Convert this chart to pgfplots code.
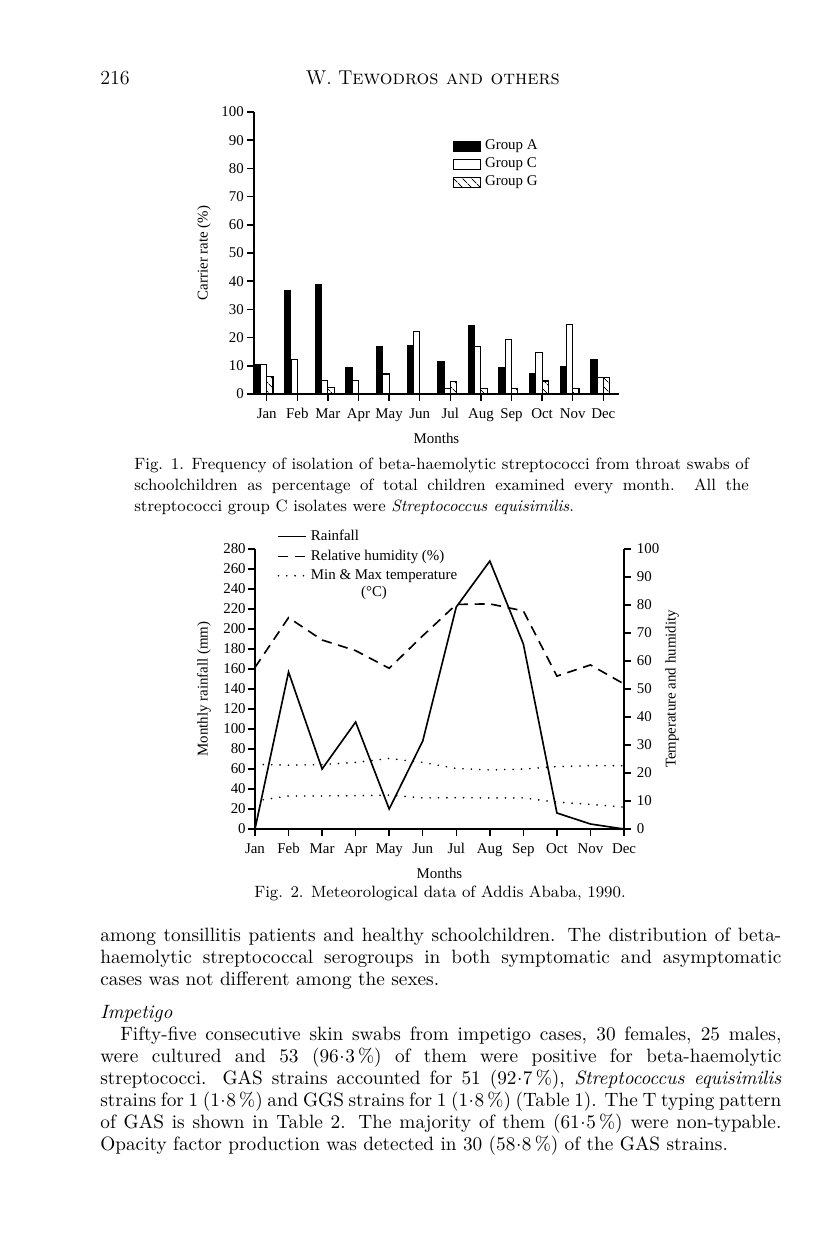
\documentclass[border=0pt]{standalone}
\usepackage{fontspec}
\usepackage{pgfplots}
\pgfplotsset{compat=1.18}
\usetikzlibrary{patterns.meta}
\newfontfamily\chartfont{Liberation Serif}
\newcommand{\cf}{\chartfont\fontsize{8.2}{9.8}\selectfont}
\newcommand{\bodyline}[1]{\makebox[374.55pt][s]{#1}}
\newcommand{\capline}[1]{\makebox[338pt][s]{#1}}
\newcommand{\pd}{\kern0.3pt\raisebox{0.42ex}{.}\kern0.3pt}

\pgfplotsset{
  page chart/.style={
    scale only axis,
    axis line style={line width=0.8pt},
    every tick/.style={black, line width=0.8pt},
    tick align=outside,
    major tick length=3.6pt,
    ticklabel style={font=\cf},
    xticklabel style={text height=1.5ex, text depth=0.3ex},
    label style={font=\cf},
    /pgf/number format/assume math mode=true,
  },
}

\begin{document}
\begin{tikzpicture}
\path[use as bounding box] (0pt,0pt) rectangle (448.8pt,-690.25pt);

\begin{scope}[x=0.55pt,y=-0.55pt]
  % running head
  \node[anchor=base west, inner sep=0pt] at (100,85) {\fontsize{11}{13}\selectfont 216};
  \node[anchor=base, inner sep=0pt] at (433,85) {\fontsize{11}{13}\selectfont W. T\textsc{ewodros and others}};

  % caption of Fig. 1
  \begin{scope}[every node/.style={anchor=base west, inner sep=0pt, font=\fontsize{9}{11}\selectfont}]
    \node at (134,469) {\capline{Fig. 1. Frequency of isolation of beta-haemolytic streptococci from throat swabs of}};
    \node at (134,490) {\capline{schoolchildren as percentage of total children examined every month. All the}};
    \node at (134,511) {streptococci group C isolates were \textit{Streptococcus equisimilis}.};
  \end{scope}

  % caption of Fig. 2
  \node[anchor=base, inner sep=0pt, font=\fontsize{9}{11}\selectfont] at (440,897) {Fig. 2. Meteorological data of Addis Ababa, 1990.};

  % body text
  \begin{scope}[every node/.style={anchor=base west, inner sep=0pt, font=\fontsize{10.6}{13}\selectfont}]
    \node at (100,941) {\bodyline{among tonsillitis patients and healthy schoolchildren. The distribution of beta-}};
    \node at (100,963) {\bodyline{haemolytic streptococcal serogroups in both symptomatic and asymptomatic}};
    \node at (100,985) {cases was not different among the sexes.};
    \node at (100,1018) {\textit{Impetigo}};
    \node at (120,1040) {\makebox[363.55pt][s]{Fifty-five consecutive skin swabs from impetigo cases, 30 females, 25 males,}};
    \node at (100,1062) {\bodyline{were cultured and 53 (96\pd3\,\%) of them were positive for beta-haemolytic}};
    \node at (100,1084) {\bodyline{streptococci. GAS strains accounted for 51 (92\pd7\,\%), \textit{Streptococcus equisimilis}}};
    \node at (100,1106) {\bodyline{strains for 1 (1\pd8\,\%) and GGS strains for 1 (1\pd8\,\%) (Table 1). The T typing pattern}};
    \node at (100,1128) {\bodyline{of GAS is shown in Table 2. The majority of them (61\pd5\,\%) were non-typable.}};
    \node at (100,1150) {Opacity factor production was detected in 30 (58\pd8\,\%) of the GAS strains.};
  \end{scope}

  % second line of the temperature legend entry
  \node[font=\cf, inner sep=0pt] at (374,593) {(°C)};
\end{scope}

% ---------------- Fig. 1: carrier rate bars ----------------
\begin{axis}[
  page chart,
  at={(139.7pt,-216.7pt)}, anchor=south west,
  width=200.75pt, height=155.1pt,
  xmin=0.585, xmax=12.513, ymin=0, ymax=100,
  axis x line*=bottom, axis y line*=left,
  xtick={1,...,12},
  xticklabels={Jan,Feb,Mar,Apr,May,Jun,Jul,Aug,Sep,Oct,Nov,Dec},
  ytick={0,10,...,100},
  yticklabel style={xshift=1.5pt},
  xlabel={Months},
  ylabel={Carrier rate (\%)},
  ylabel style={at={(axis description cs:-0.137,0.5)}, anchor=center},
  ybar, bar width=0.205,
  legend image code/.code={\draw[#1] (0pt,-2.75pt) rectangle (14.85pt,2.75pt);},
  legend style={at={(0.545,0.915)}, anchor=north west, draw=none, fill=none,
    font=\cf, row sep=-1pt, inner sep=0pt},
  legend cell align=left,
]
\addplot[draw=black, fill=black, line width=0.6pt, bar shift=-0.31] coordinates {
  (1,10.5) (2,36.6) (3,38.9) (4,9.5) (5,16.8) (6,17.3)
  (7,11.5) (8,24.3) (9,9.5) (10,7.3) (11,9.6) (12,12.1)};
\addplot[draw=black, fill=white, line width=0.6pt, bar shift=-0.1025] coordinates {
  (1,10.5) (2,12.2) (3,4.8) (4,4.7) (5,7.1) (6,22.2)
  (7,2.1) (8,16.8) (9,19.2) (10,14.6) (11,24.6) (12,5.8)};
\addplot[draw=black, line width=0.6pt, bar shift=0.1025,
  pattern={Lines[angle=-45, distance=4pt, line width=0.5pt]}] coordinates {
  (1,6.2) (3,2.4) (7,4.5) (8,2.1) (9,2.1) (10,4.6) (11,2.1) (12,5.8)};
\legend{Group A, Group C, Group G}
\end{axis}

% ---------------- Fig. 2: meteorological data ----------------
\begin{axis}[
  page chart,
  at={(140.25pt,-455.95pt)}, anchor=south west,
  width=202.95pt, height=154pt,
  xmin=1, xmax=12, ymin=0, ymax=280,
  axis x line*=bottom, axis y line*=left,
  xtick={1,...,12},
  xticklabels={Jan,Feb,Mar,Apr,May,Jun,Jul,Aug,Sep,Oct,Nov,Dec},
  ytick={0,20,...,280},
  yticklabel style={xshift=2pt},
  xlabel={Months},
  ylabel={Monthly rainfall (mm)},
  ylabel style={at={(axis description cs:-0.138,0.5)}, anchor=center},
]
\addplot[black, line width=0.9pt] coordinates {
  (1,0) (2,157) (3,60) (4,107) (5,20) (6,88)
  (7,222) (8,268) (9,185) (10,16) (11,5) (12,0)};
\end{axis}

\begin{axis}[
  page chart,
  at={(140.25pt,-455.95pt)}, anchor=south west,
  width=202.95pt, height=154pt,
  xmin=1, xmax=12, ymin=0, ymax=100,
  axis x line=none, axis y line*=right,
  ytick={0,10,...,100},
  ylabel={Temperature and humidity},
  ylabel style={at={(axis description cs:1.13,0.5)}, anchor=center},
  legend image code/.code={\draw[#1] (0pt,0pt) -- (15.4pt,0pt);},
  legend style={at={(0.06,1.082)}, anchor=north west, draw=none, fill=none,
    font=\cf, row sep=-0.4pt, inner sep=0pt},
  legend cell align=left,
]
\addlegendimage{black, line width=0.9pt}
\addplot[black, line width=0.9pt, dash pattern=on 5.5pt off 3.7pt] coordinates {
  (1,57.7) (2,75.5) (3,67.5) (4,63.7) (5,57.4) (6,69)
  (7,80.2) (8,80.4) (9,77.9) (10,54.6) (11,58.6) (12,51.8)};
\addplot[black, line width=1pt, line cap=round, dash pattern=on 0pt off 4.6pt] coordinates {
  (1,23.1) (2,22.8) (3,23.0) (4,23.8) (5,25.2) (6,23.8)
  (7,21.6) (8,21.1) (9,21.4) (10,22.3) (11,22.6) (12,22.6)};
\addplot[black, line width=1pt, line cap=round, dash pattern=on 0pt off 4.6pt, forget plot] coordinates {
  (1,10.0) (2,11.8) (3,11.8) (4,11.9) (5,12.1) (6,11.1)
  (7,11.2) (8,11.1) (9,11.1) (10,9.6) (11,8.8) (12,7.8)};
\legend{Rainfall, Relative humidity (\%), Min \& Max temperature}
\end{axis}
\end{tikzpicture}
\end{document}
